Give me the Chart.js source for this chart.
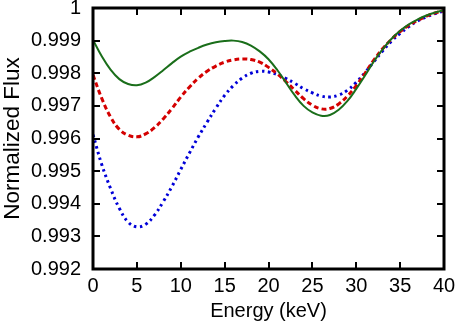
<!DOCTYPE html>
<html>
<head>
<meta charset="utf-8">
<script src="https://cdn.jsdelivr.net/npm/chart.js@4"></script>
<style>
    html, body { margin: 0; padding: 0; background: #fff; }
    #wrap { width: 458px; height: 328px; }
</style>
</head>
<body>
<div id="wrap"><canvas id="fluxChart"></canvas></div>
<script>
// Energy grid (keV)
const energy = [0, 1, 2, 3, 4, 5, 6, 7, 8, 9, 10, 11, 12, 13, 14, 15, 16, 17, 18, 19, 20,
    21, 22, 23, 24, 25, 26, 27, 28, 29, 30, 31, 32, 33, 34, 35, 36, 37, 38, 39, 40];

// Normalized flux, solid green
const fluxSolid = [0.99902, 0.99852, 0.99811, 0.99782, 0.99767, 0.99763, 0.99771, 0.99788, 0.99809, 0.99831, 0.99851,
    0.99866, 0.99878, 0.99888, 0.99895, 0.99899, 0.99900, 0.99896, 0.99885, 0.99867, 0.99843,
    0.99810, 0.99771, 0.99732, 0.99700, 0.99680, 0.99670, 0.99672, 0.99688, 0.99715, 0.99752,
    0.99793, 0.99836, 0.99873, 0.99905, 0.99930, 0.99950, 0.99965, 0.99977, 0.99986, 0.99993];

// Normalized flux, dashed red
const fluxDashed = [0.99795, 0.99723, 0.99666, 0.99628, 0.99610, 0.99605, 0.99614, 0.99633, 0.99660, 0.99692, 0.99727,
    0.99758, 0.99785, 0.99806, 0.99822, 0.99834, 0.99841, 0.99844, 0.99842, 0.99834, 0.99818,
    0.99798, 0.99774, 0.99748, 0.99722, 0.99702, 0.99691, 0.99692, 0.99706, 0.99730, 0.99762,
    0.99800, 0.99840, 0.99875, 0.99904, 0.99928, 0.99947, 0.99962, 0.99975, 0.99985, 0.99992];

// Normalized flux, dotted blue
const fluxDotted = [0.99612, 0.99520, 0.99447, 0.99386, 0.99344, 0.99329, 0.99337, 0.99365, 0.99406, 0.99453, 0.99505,
    0.99556, 0.99605, 0.99650, 0.99693, 0.99732, 0.99762, 0.99785, 0.99800, 0.99806, 0.99804,
    0.99796, 0.99784, 0.99769, 0.99753, 0.99740, 0.99730, 0.99727, 0.99733, 0.99748, 0.99772,
    0.99802, 0.99835, 0.99868, 0.99898, 0.99922, 0.99943, 0.99960, 0.99973, 0.99983, 0.99991];

const toPoints = ys => energy.map((x, i) => ({ x: x, y: ys[i] }));
const font = { family: 'Liberation Sans, Arial, sans-serif', size: 20 };

// frame + inward ticks on all four sides
const framePlugin = {
    id: 'frame',
    afterDatasetsDraw(chart) {
        const ctx = chart.ctx;
        const a = chart.chartArea;
        const xs = chart.scales.x, ys = chart.scales.y;
        ctx.save();
        ctx.strokeStyle = '#000';
        ctx.lineWidth = 2;
        const len = 7;
        xs.ticks.forEach(t => {
            const px = Math.round(xs.getPixelForValue(t.value));
            ctx.beginPath();
            ctx.moveTo(px, a.bottom); ctx.lineTo(px, a.bottom - len);
            ctx.moveTo(px, a.top); ctx.lineTo(px, a.top + len);
            ctx.stroke();
        });
        ys.ticks.forEach(t => {
            const py = Math.round(ys.getPixelForValue(t.value));
            ctx.beginPath();
            ctx.moveTo(a.left, py); ctx.lineTo(a.left + len, py);
            ctx.moveTo(a.right, py); ctx.lineTo(a.right - len, py);
            ctx.stroke();
        });
        ctx.lineWidth = 3;
        ctx.strokeRect(a.left, a.top, a.right - a.left, a.bottom - a.top);
        ctx.restore();
    }
};

new Chart(document.getElementById('fluxChart'), {
    type: 'line',
    data: {
        datasets: [{
            data: toPoints(fluxSolid),
            borderColor: '#1a6e1a',
            borderWidth: 2,
            pointRadius: 0,
            tension: 0.4
        }, {
            data: toPoints(fluxDashed),
            borderColor: '#d40000',
            borderWidth: 3,
            borderDash: [5, 3],
            pointRadius: 0,
            tension: 0.4
        }, {
            data: toPoints(fluxDotted),
            borderColor: '#0000d8',
            borderWidth: 3,
            borderDash: [2.5, 3.5],
            pointRadius: 0,
            tension: 0.4
        }]
    },
    options: {
        responsive: true, maintainAspectRatio: false,
        animation: false,
        layout: { padding: { top: 8, right: 14, left: 0, bottom: 0 } },
        plugins: { legend: { display: false }, tooltip: { enabled: false } },
        scales: {
            x: {
                type: 'linear', min: 0, max: 40,
                grid: { display: false, drawTicks: false },
                border: { display: false },
                ticks: { stepSize: 5, color: '#000', font: font, padding: 5, maxRotation: 0 },
                title: { display: true, text: 'Energy (keV)', color: '#000', font: font, padding: { top: 0, bottom: 5 } },
                afterFit: s => { s.height = 59; s.paddingLeft = 0; s.paddingRight = 0; }
            },
            y: {
                min: 0.992, max: 1,
                grid: { display: false, drawTicks: false },
                border: { display: false },
                ticks: {
                    stepSize: 0.001, color: '#000', font: font, padding: 12,
                    callback: v => Math.abs(v - 1) < 1e-9 ? '1' : v.toFixed(3)
                },
                title: { display: true, text: 'Normalized Flux', color: '#000',
                    font: { family: font.family, size: 22.5 }, padding: { top: -1, bottom: 0 } },
                afterFit: s => { s.width = 93; s.paddingTop = 0; s.paddingBottom = 0; }
            }
        }
    },
    plugins: [framePlugin]
});
</script>
</body>
</html>
